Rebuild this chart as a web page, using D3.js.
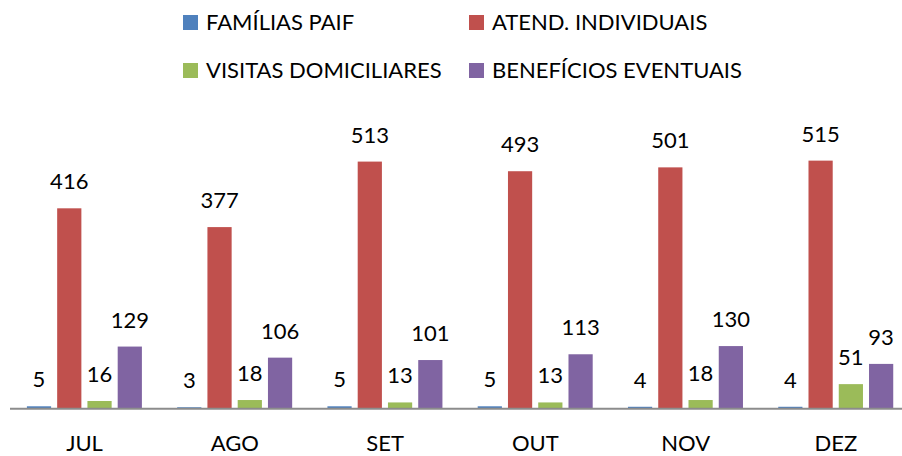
<!DOCTYPE html>
<html>
<head>
<meta charset="utf-8">
<script src="https://cdn.jsdelivr.net/npm/d3@7"></script>
<style>
  body { margin: 0; background: #fff; }
  text { font-family: Lato, "Open Sans", sans-serif; fill: #000; }
</style>
</head>
<body>
<svg id="chart" width="902" height="456"></svg>
<script>
const months = ['JUL', 'AGO', 'SET', 'OUT', 'NOV', 'DEZ']
const seriesNames = ['FAMÍLIAS PAIF', 'ATEND. INDIVIDUAIS', 'VISITAS DOMICILIARES', 'BENEFÍCIOS EVENTUAIS']
const familias = [5, 3, 5, 5, 4, 4]
const atendimentos = [416, 377, 513, 493, 501, 515]
const visitas = [16, 18, 13, 13, 18, 51]
const beneficios = [129, 106, 101, 113, 130, 93]
const colors = ['#4F81BD', '#C0504D', '#9BBB59', '#8064A2']

const svg = d3.select('#chart')
const baseY = 408.7
const fontSize = '22px'

const series = [familias, atendimentos, visitas, beneficios]
const rows = months.map((m, i) => ({ month: m, values: series.map(s => s[i]) }))

const x = d3.scaleBand()
  .domain(months)
  .range([9.4, 911])
  .paddingInner(0)
  .paddingOuter(0)

const inner = d3.scaleBand()
  .domain(d3.range(4))
  .range([17.5, 132.5])
  .paddingInner(0.2)
  .paddingOuter(0)

const y = d3.scaleLinear()
  .domain([0, 515])
  .range([baseY, baseY - 515 * 0.4817])

const groups = svg.selectAll('g.month')
  .data(rows)
  .enter()
  .append('g')
  .attr('class', 'month')
  .attr('transform', d => `translate(${x(d.month)},0)`)

groups.selectAll('rect')
  .data(d => d.values)
  .enter()
  .append('rect')
  .attr('x', (d, i) => inner(i))
  .attr('width', inner.bandwidth())
  .attr('y', d => y(d))
  .attr('height', d => baseY - y(d))
  .attr('fill', (d, i) => colors[i])

groups.selectAll('text.value')
  .data(d => d.values)
  .enter()
  .append('text')
  .attr('class', 'value')
  .attr('x', (d, i) => inner(i) + inner.bandwidth() / 2)
  .attr('y', d => y(d) - 19)
  .attr('text-anchor', 'middle')
  .style('font-size', fontSize)
  .text(d => d)

// axis line
svg.append('line')
  .attr('x1', 10).attr('x2', 911)
  .attr('y1', baseY).attr('y2', baseY)
  .attr('stroke', '#8C8C8C')
  .attr('stroke-width', 2)

const xAxis = d3.axisBottom(x).tickSize(0).tickPadding(0)
svg.append('g')
  .attr('transform', `translate(0,${baseY})`)
  .call(xAxis)
  .call(g => g.select('.domain').remove())
  .selectAll('text')
  .attr('dy', null)
  .attr('y', 42)
  .style('font-size', fontSize)
  .style('font-family', 'Lato, "Open Sans", sans-serif')
  .attr('fill', '#000')

// legend
const legendPos = [
  { x: 183, y: 22.5 }, { x: 469, y: 22.5 },
  { x: 183, y: 70.5 }, { x: 469, y: 70.5 }
]
const legend = svg.selectAll('g.legend')
  .data(seriesNames)
  .enter()
  .append('g')
  .attr('class', 'legend')
  .attr('transform', (d, i) => `translate(${legendPos[i].x},${legendPos[i].y})`)

legend.append('rect')
  .attr('x', 0).attr('y', -7.5)
  .attr('width', 15).attr('height', 15)
  .attr('fill', (d, i) => colors[i])

legend.append('text')
  .attr('x', 23)
  .attr('y', 0)
  .attr('dy', '0.36em')
  .style('font-size', fontSize)
  .text(d => d)
</script>
</body>
</html>
